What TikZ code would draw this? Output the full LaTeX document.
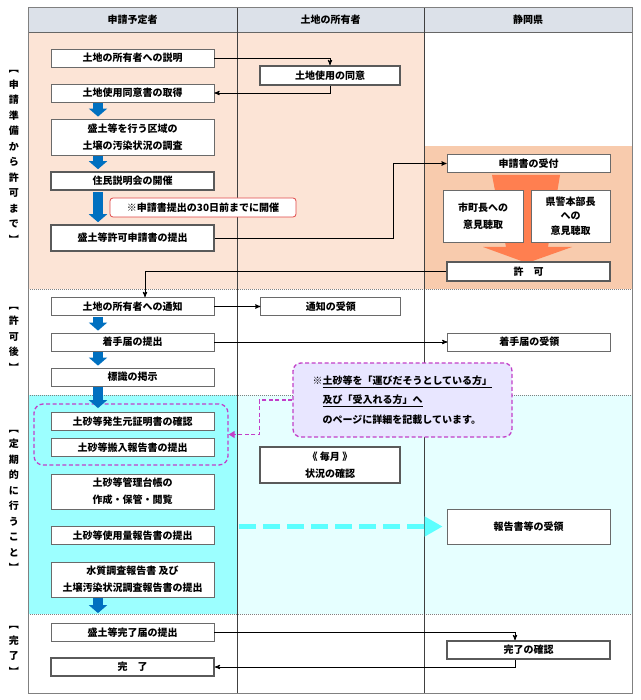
\documentclass[tikz,border=0pt]{standalone}
\usepackage{fontspec}
\setmainfont{Noto Sans CJK JP}
\usepackage{xcolor}
\usepackage{tikz}
\usetikzlibrary{arrows, arrows.meta, positioning}

\definecolor{hdrgray}{HTML}{DCE1E9}
\definecolor{peach}{HTML}{FCE4D6}
\definecolor{peachdk}{HTML}{F8CBAD}
\definecolor{funnel}{HTML}{FF7F50}
\definecolor{aqua}{HTML}{9CFFFF}
\definecolor{aqualt}{HTML}{E6FFFF}
\definecolor{flowblue}{HTML}{0070C0}
\definecolor{notepurple}{HTML}{C23FC8}
\definecolor{notefill}{HTML}{E8E6FF}
\definecolor{notered}{HTML}{E04848}
\definecolor{boxline}{HTML}{6A6A6A}
\definecolor{dashcyan}{HTML}{5CFFFF}

\begin{document}
\begin{tikzpicture}[x=1pt,y=-1pt,>=stealth',semithick,
    every node/.style={font=\bfseries\fontsize{10}{17}\selectfont, inner sep=2pt},
    box/.style={draw=boxline, fill=white, line width=0.8pt, align=center,
        inner ysep=1pt, minimum width=163pt, minimum height=18pt},
    thickbox/.style={box, draw=boxline!85!black, line width=1.6pt},
    conn/.style={->, line width=0.9pt},
    blk/.style={draw=flowblue, line width=10pt, -{Triangle[width=18pt,length=8pt]},
        shorten <=1pt, shorten >=2pt}]
    \tikzset{sidelbl/.style={align=center, inner sep=0pt,
        font=\bfseries\fontsize{10}{15.5}\selectfont}}
    \tikzset{rednote/.style={draw=notered, fill=white, rounded corners=3pt,
        line width=0.8pt, inner ysep=1pt, minimum width=186pt, minimum height=19pt}}
    \tikzset{purplenote/.style={draw=notepurple, fill=notefill, rounded corners=8pt,
        line width=1.3pt, dash pattern=on 4pt off 2.5pt, align=left,
        text width=180pt, inner xsep=19.5pt, minimum height=74pt,
        font=\bfseries\fontsize{10}{19.5}\selectfont}}
    \tikzset{grpbox/.style={draw=notepurple, rounded corners=9pt, line width=1.3pt,
        dash pattern=on 4pt off 2.5pt, minimum width=194pt, minimum height=61pt}}
    \tikzset{pconn/.style={draw=notepurple, line width=1.3pt, dash pattern=on 4pt off 2.5pt,
        -{Triangle[width=7pt,length=6pt]}}}
    \tikzset{cconn/.style={draw=dashcyan, line width=5pt, dash pattern=on 17pt off 7pt,
        -{Triangle[width=19pt,length=18pt]}, shorten >=4pt}}

    \useasboundingbox (0,0) rectangle (640,700);

    % bands
    \fill[peach] (28,32) rectangle (424,289);
    \fill[peachdk] (424,146) rectangle (632,289);
    \fill[aqua] (28,395) rectangle (237,614);
    \fill[aqualt] (237,395) rectangle (632,614);
    \fill[hdrgray] (28,8) rectangle (632,32);
    \foreach \yy in {289,395,614}
        \draw[gray, line width=0.6pt, dash pattern=on 1pt off 1pt] (28,\yy) -- (632,\yy);
    \draw[gray!80!black, line width=0.6pt] (28,32) -- (632,32);
    \foreach \xx in {237,424}
        \draw[black!75, line width=0.6pt] (\xx,8) -- (\xx,693);
    \draw[gray, line width=1pt] (28,8) rectangle (632,693);

    \fill[funnel] (492,175) -- (560,175) -- (548,247) -- (572,247) -- (527,263)
        -- (483,247) -- (506,247) -- cycle;

    \node (hdrA) at (132.5,20) {申請予定者};
    \node (hdrB) at (330.5,20) {土地の所有者};
    \node (hdrC) at (528,20) {静岡県};

    \node[sidelbl] (lblA) at (14,157) {︻\\申\\請\\準\\備\\か\\ら\\許\\可\\ま\\で\\︼};
    \node[sidelbl] (lblB) at (14,339) {︻\\許\\可\\後\\︼};
    \node[sidelbl] (lblC) at (14,501) {︻\\定\\期\\的\\に\\行\\う\\こ\\と\\︼};
    \node[sidelbl] (lblD) at (14,651) {︻\\完\\了\\︼};

    \node[box] (expl) at (132.5,58) {土地の所有者への説明};
    \node[box] (agree) at (132.5,93) {土地使用同意書の取得};
    \node[box, minimum height=36pt] (survey) at (132.5,137) {盛土等を行う区域の\\土壌の汚染状況の調査};
    \node[thickbox] (meet) at (132.5,181) {住民説明会の開催};
    \node[thickbox, minimum height=26pt] (apply) at (132.5,238) {盛土等許可申請書の提出};
    \node[box] (notify) at (132.5,306.5) {土地の所有者への通知};
    \node[box] (start) at (132.5,342) {着手届の提出};
    \node[box] (sign) at (132.5,377) {標識の掲示};
    \node[box] (origin) at (132.5,421.5) {土砂等発生元証明書の確認};
    \node[box] (carry) at (132.5,447.5) {土砂等搬入報告書の提出};
    \node[box, minimum height=35pt] (ledger) at (132.5,491.5) {土砂等管理台帳の\\作成・保管・閲覧};
    \node[box] (usage) at (132.5,535.5) {土砂等使用量報告書の提出};
    \node[box, minimum height=35pt] (water) at (132.5,579.5) {水質調査報告書 及び\\土壌汚染状況調査報告書の提出};
    \node[box] (finrep) at (132.5,632.5) {盛土等完了届の提出};
    \node[thickbox] (done) at (132.5,667) {完　了};

    \node[rednote] (deadline) at (203,207.5) {※申請書提出の30日前までに開催};

    \node[thickbox, minimum width=140pt, minimum height=19pt] (consent) at (330,75.5) {土地使用の同意};
    \node[box, minimum width=140pt, right=46pt of notify] (recv) {通知の受領};
    \node[thickbox, minimum width=140pt, minimum height=36pt] (monthly) at (330,465) {《 毎月 》\\状況の確認};

    \node[box] (accept) at (528.5,163.5) {申請書の受付};
    \node[box, minimum width=80pt, minimum height=52pt] (mayor) at (483,216) {市町長への\\意見聴取};
    \node[box, minimum width=79pt, minimum height=52pt, font=\bfseries\fontsize{10}{14.5}\selectfont] (police) at (570.5,216) {県警本部長\\への\\意見聴取};
    \node[thickbox, minimum height=19pt] (permit) at (528.5,271.5) {許　可};
    \node[box, right=233pt of start] (startrcv) {着手届の受領};
    \node[box, minimum height=35pt] (reprcv) at (528.5,526.5) {報告書等の受領};
    \node[thickbox] (fincheck) at (528.5,650) {完了の確認};

    \node[purplenote] (guide) at (402.5,400) {※\underline{土砂等を「運びだそうとしている方」}\\
        \hspace*{1em}\underline{及び「受入れる方」へ}\\
        \hspace*{1em}のページに詳細を記載しています。};
    \node[grpbox] (grp) at (131,434.5) {};

    \draw[conn] (expl) -| (consent);
    \draw[conn] (consent) |- (agree);
    \draw[conn] (apply.east) -- ++(179,0) |- (accept);
    \draw[conn] (permit.west) -| ([xshift=12.5pt]notify.north);
    \draw[conn] (notify) -- (recv);
    \draw[conn] (start) -- (startrcv);
    \draw[conn] (finrep.east) -| ([xshift=-13.5pt]fincheck.north);
    \draw[conn] ([xshift=-13.5pt]fincheck.south) |- (done);
    \draw[pconn] (guide.west) -- ++(-33,0) |- (grp.east);
    \draw[cconn] (usage.east |- reprcv.west) ++(25,0) -- (reprcv.west);

    \draw[blk] ([xshift=-34.5pt]agree.south) -- ([xshift=-34.5pt]survey.north);
    \draw[blk] ([xshift=-34.5pt]survey.south) -- ([xshift=-34.5pt]meet.north);
    \draw[blk] ([xshift=-34.5pt]meet.south) -- ([xshift=-34.5pt]apply.north);
    \draw[blk] ([xshift=-34.5pt]notify.south) -- ([xshift=-34.5pt]start.north);
    \draw[blk] ([xshift=-34.5pt]start.south) -- ([xshift=-34.5pt]sign.north);
    \draw[blk, shorten >=4pt] ([xshift=-34.5pt]sign.south) -- ([xshift=-34.5pt]origin.north);
    \draw[blk, shorten >=0pt] ([xshift=-34.5pt]water.south) -- ([xshift=-34.5pt,yshift=10pt]finrep.north);
\end{tikzpicture}
\end{document}
